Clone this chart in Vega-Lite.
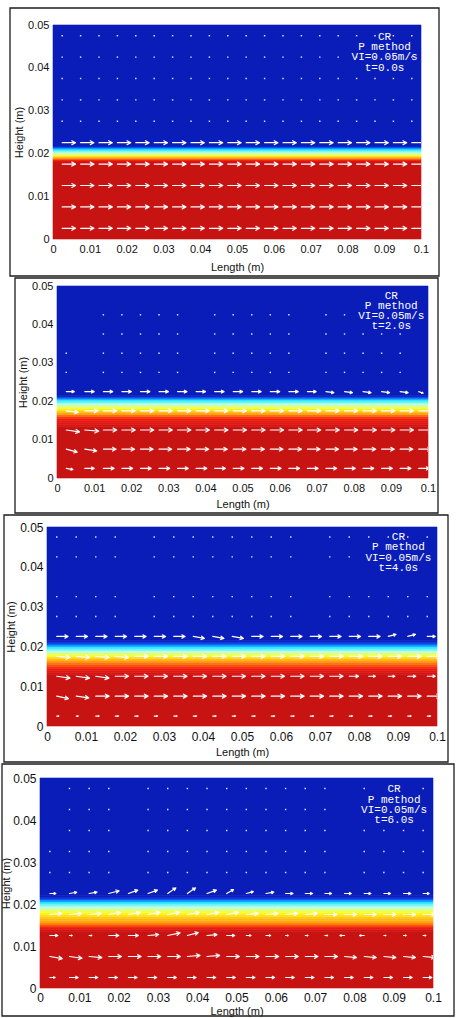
{
  "$schema": "https://vega.github.io/schema/vega-lite/v6.json",
  "background": "white",
  "padding": {"left": 0, "top": 7, "right": 0, "bottom": 0},
  "spacing": 0,
  "config": {
    "view": {"stroke": null},
    "axis": {"labelFont": "Liberation Sans", "titleFont": "Liberation Sans", "labelColor": "#111", "titleColor": "#111", "titleFontWeight": "normal", "ticks": false, "domain": false, "grid": false, "labelFlush": false, "labelOverlap": false}
  },
  "datasets": {
    "notes": [
      {"p": 1, "note": "CR\nP method\nVI=0.05m/s\nt=0.0s"},
      {"p": 2, "note": "CR\nP method\nVI=0.05m/s\nt=2.0s"},
      {"p": 3, "note": "CR\nP method\nVI=0.05m/s\nt=4.0s"},
      {"p": 4, "note": "CR\nP method\nVI=0.05m/s\nt=6.0s"}
    ],
    "bands": [
      {"p":1,"lo":0,"hi":0.018,"f":1},{"p":1,"lo":0.018,"hi":0.01825,"f":0.94},{"p":1,"lo":0.01825,"hi":0.0185,"f":0.81},{"p":1,"lo":0.0185,"hi":0.01875,"f":0.72},{"p":1,"lo":0.01875,"hi":0.019,"f":0.63},{"p":1,"lo":0.019,"hi":0.01925,"f":0.56},{"p":1,"lo":0.01925,"hi":0.0195,"f":0.49},{"p":1,"lo":0.0195,"hi":0.01975,"f":0.43},{"p":1,"lo":0.01975,"hi":0.02,"f":0.39},{"p":1,"lo":0.02,"hi":0.02025,"f":0.35},{"p":1,"lo":0.02025,"hi":0.0205,"f":0.3},{"p":1,"lo":0.0205,"hi":0.02075,"f":0.26},{"p":1,"lo":0.02075,"hi":0.021,"f":0.22},{"p":1,"lo":0.021,"hi":0.02125,"f":0.17},{"p":1,"lo":0.02125,"hi":0.0215,"f":0.11},{"p":1,"lo":0.0215,"hi":0.02175,"f":0.04},{"p":1,"lo":0.02175,"hi":0.05,"f":0},
      {"p":2,"lo":0,"hi":0.013,"f":1},{"p":2,"lo":0.013,"hi":0.0135,"f":0.99},{"p":2,"lo":0.0135,"hi":0.014,"f":0.95},{"p":2,"lo":0.014,"hi":0.0145,"f":0.9},{"p":2,"lo":0.0145,"hi":0.015,"f":0.86},{"p":2,"lo":0.015,"hi":0.0155,"f":0.82},{"p":2,"lo":0.0155,"hi":0.016,"f":0.76},{"p":2,"lo":0.016,"hi":0.0165,"f":0.68},{"p":2,"lo":0.0165,"hi":0.017,"f":0.6},{"p":2,"lo":0.017,"hi":0.0175,"f":0.55},{"p":2,"lo":0.0175,"hi":0.018,"f":0.49},{"p":2,"lo":0.018,"hi":0.0185,"f":0.43},{"p":2,"lo":0.0185,"hi":0.019,"f":0.38},{"p":2,"lo":0.019,"hi":0.0195,"f":0.33},{"p":2,"lo":0.0195,"hi":0.02,"f":0.27},{"p":2,"lo":0.02,"hi":0.0205,"f":0.22},{"p":2,"lo":0.0205,"hi":0.021,"f":0.13},{"p":2,"lo":0.021,"hi":0.0215,"f":0.03},{"p":2,"lo":0.0215,"hi":0.05,"f":0},
      {"p":3,"lo":0,"hi":0.013,"f":1},{"p":3,"lo":0.013,"hi":0.0135,"f":0.95},{"p":3,"lo":0.0135,"hi":0.014,"f":0.89},{"p":3,"lo":0.014,"hi":0.0145,"f":0.83},{"p":3,"lo":0.0145,"hi":0.015,"f":0.77},{"p":3,"lo":0.015,"hi":0.0155,"f":0.72},{"p":3,"lo":0.0155,"hi":0.016,"f":0.67},{"p":3,"lo":0.016,"hi":0.0165,"f":0.61},{"p":3,"lo":0.0165,"hi":0.017,"f":0.56},{"p":3,"lo":0.017,"hi":0.0175,"f":0.5},{"p":3,"lo":0.0175,"hi":0.018,"f":0.44},{"p":3,"lo":0.018,"hi":0.0185,"f":0.39},{"p":3,"lo":0.0185,"hi":0.019,"f":0.33},{"p":3,"lo":0.019,"hi":0.0195,"f":0.27},{"p":3,"lo":0.0195,"hi":0.02,"f":0.22},{"p":3,"lo":0.02,"hi":0.0205,"f":0.15},{"p":3,"lo":0.0205,"hi":0.021,"f":0.09},{"p":3,"lo":0.021,"hi":0.0215,"f":0.02},{"p":3,"lo":0.0215,"hi":0.05,"f":0},
      {"p":4,"lo":0,"hi":0.0135,"f":1},{"p":4,"lo":0.0135,"hi":0.014,"f":0.96},{"p":4,"lo":0.014,"hi":0.0145,"f":0.84},{"p":4,"lo":0.0145,"hi":0.015,"f":0.74},{"p":4,"lo":0.015,"hi":0.0155,"f":0.66},{"p":4,"lo":0.0155,"hi":0.016,"f":0.6},{"p":4,"lo":0.016,"hi":0.0165,"f":0.57},{"p":4,"lo":0.0165,"hi":0.017,"f":0.54},{"p":4,"lo":0.017,"hi":0.0175,"f":0.5},{"p":4,"lo":0.0175,"hi":0.018,"f":0.47},{"p":4,"lo":0.018,"hi":0.0185,"f":0.43},{"p":4,"lo":0.0185,"hi":0.019,"f":0.38},{"p":4,"lo":0.019,"hi":0.0195,"f":0.33},{"p":4,"lo":0.0195,"hi":0.02,"f":0.28},{"p":4,"lo":0.02,"hi":0.0205,"f":0.23},{"p":4,"lo":0.0205,"hi":0.021,"f":0.16},{"p":4,"lo":0.021,"hi":0.0215,"f":0.08},{"p":4,"lo":0.0215,"hi":0.022,"f":0.01},{"p":4,"lo":0.022,"hi":0.05,"f":0}
    ],
    "vec": [
      {"p":1,"x":0.0025,"y":0.0225,"m":1,"d":0},{"p":1,"x":0.0075,"y":0.0225,"m":1,"d":0},{"p":1,"x":0.0125,"y":0.0225,"m":1,"d":0},{"p":1,"x":0.0175,"y":0.0225,"m":1,"d":0},{"p":1,"x":0.0225,"y":0.0225,"m":1,"d":0},{"p":1,"x":0.0275,"y":0.0225,"m":1,"d":0},{"p":1,"x":0.0325,"y":0.0225,"m":1,"d":0},{"p":1,"x":0.0375,"y":0.0225,"m":1,"d":0},{"p":1,"x":0.0425,"y":0.0225,"m":1,"d":0},{"p":1,"x":0.0475,"y":0.0225,"m":1,"d":0},{"p":1,"x":0.0525,"y":0.0225,"m":1,"d":0},{"p":1,"x":0.0575,"y":0.0225,"m":1,"d":0},{"p":1,"x":0.0625,"y":0.0225,"m":1,"d":0},{"p":1,"x":0.0675,"y":0.0225,"m":1,"d":0},{"p":1,"x":0.0725,"y":0.0225,"m":1,"d":0},{"p":1,"x":0.0775,"y":0.0225,"m":1,"d":0},{"p":1,"x":0.0825,"y":0.0225,"m":1,"d":0},{"p":1,"x":0.0875,"y":0.0225,"m":1,"d":0},{"p":1,"x":0.0925,"y":0.0225,"m":1,"d":0},{"p":1,"x":0.0975,"y":0.0225,"m":1,"d":0},
      {"p":1,"x":0.0025,"y":0.0175,"m":1,"d":0},{"p":1,"x":0.0075,"y":0.0175,"m":1,"d":0},{"p":1,"x":0.0125,"y":0.0175,"m":1,"d":0},{"p":1,"x":0.0175,"y":0.0175,"m":1,"d":0},{"p":1,"x":0.0225,"y":0.0175,"m":1,"d":0},{"p":1,"x":0.0275,"y":0.0175,"m":1,"d":0},{"p":1,"x":0.0325,"y":0.0175,"m":1,"d":0},{"p":1,"x":0.0375,"y":0.0175,"m":1,"d":0},{"p":1,"x":0.0425,"y":0.0175,"m":1,"d":0},{"p":1,"x":0.0475,"y":0.0175,"m":1,"d":0},{"p":1,"x":0.0525,"y":0.0175,"m":1,"d":0},{"p":1,"x":0.0575,"y":0.0175,"m":1,"d":0},{"p":1,"x":0.0625,"y":0.0175,"m":1,"d":0},{"p":1,"x":0.0675,"y":0.0175,"m":1,"d":0},{"p":1,"x":0.0725,"y":0.0175,"m":1,"d":0},{"p":1,"x":0.0775,"y":0.0175,"m":1,"d":0},{"p":1,"x":0.0825,"y":0.0175,"m":1,"d":0},{"p":1,"x":0.0875,"y":0.0175,"m":1,"d":0},{"p":1,"x":0.0925,"y":0.0175,"m":1,"d":0},{"p":1,"x":0.0975,"y":0.0175,"m":1,"d":0},
      {"p":1,"x":0.0025,"y":0.0125,"m":1,"d":0},{"p":1,"x":0.0075,"y":0.0125,"m":1,"d":0},{"p":1,"x":0.0125,"y":0.0125,"m":1,"d":0},{"p":1,"x":0.0175,"y":0.0125,"m":1,"d":0},{"p":1,"x":0.0225,"y":0.0125,"m":1,"d":0},{"p":1,"x":0.0275,"y":0.0125,"m":1,"d":0},{"p":1,"x":0.0325,"y":0.0125,"m":1,"d":0},{"p":1,"x":0.0375,"y":0.0125,"m":1,"d":0},{"p":1,"x":0.0425,"y":0.0125,"m":1,"d":0},{"p":1,"x":0.0475,"y":0.0125,"m":1,"d":0},{"p":1,"x":0.0525,"y":0.0125,"m":1,"d":0},{"p":1,"x":0.0575,"y":0.0125,"m":1,"d":0},{"p":1,"x":0.0625,"y":0.0125,"m":1,"d":0},{"p":1,"x":0.0675,"y":0.0125,"m":1,"d":0},{"p":1,"x":0.0725,"y":0.0125,"m":1,"d":0},{"p":1,"x":0.0775,"y":0.0125,"m":1,"d":0},{"p":1,"x":0.0825,"y":0.0125,"m":1,"d":0},{"p":1,"x":0.0875,"y":0.0125,"m":1,"d":0},{"p":1,"x":0.0925,"y":0.0125,"m":1,"d":0},{"p":1,"x":0.0975,"y":0.0125,"m":1,"d":0},
      {"p":1,"x":0.0025,"y":0.0075,"m":1,"d":0},{"p":1,"x":0.0075,"y":0.0075,"m":1,"d":0},{"p":1,"x":0.0125,"y":0.0075,"m":1,"d":0},{"p":1,"x":0.0175,"y":0.0075,"m":1,"d":0},{"p":1,"x":0.0225,"y":0.0075,"m":1,"d":0},{"p":1,"x":0.0275,"y":0.0075,"m":1,"d":0},{"p":1,"x":0.0325,"y":0.0075,"m":1,"d":0},{"p":1,"x":0.0375,"y":0.0075,"m":1,"d":0},{"p":1,"x":0.0425,"y":0.0075,"m":1,"d":0},{"p":1,"x":0.0475,"y":0.0075,"m":1,"d":0},{"p":1,"x":0.0525,"y":0.0075,"m":1,"d":0},{"p":1,"x":0.0575,"y":0.0075,"m":1,"d":0},{"p":1,"x":0.0625,"y":0.0075,"m":1,"d":0},{"p":1,"x":0.0675,"y":0.0075,"m":1,"d":0},{"p":1,"x":0.0725,"y":0.0075,"m":1,"d":0},{"p":1,"x":0.0775,"y":0.0075,"m":1,"d":0},{"p":1,"x":0.0825,"y":0.0075,"m":1,"d":0},{"p":1,"x":0.0875,"y":0.0075,"m":1,"d":0},{"p":1,"x":0.0925,"y":0.0075,"m":1,"d":0},{"p":1,"x":0.0975,"y":0.0075,"m":1,"d":0},
      {"p":1,"x":0.0025,"y":0.0025,"m":1,"d":0},{"p":1,"x":0.0075,"y":0.0025,"m":1,"d":0},{"p":1,"x":0.0125,"y":0.0025,"m":1,"d":0},{"p":1,"x":0.0175,"y":0.0025,"m":1,"d":0},{"p":1,"x":0.0225,"y":0.0025,"m":1,"d":0},{"p":1,"x":0.0275,"y":0.0025,"m":1,"d":0},{"p":1,"x":0.0325,"y":0.0025,"m":1,"d":0},{"p":1,"x":0.0375,"y":0.0025,"m":1,"d":0},{"p":1,"x":0.0425,"y":0.0025,"m":1,"d":0},{"p":1,"x":0.0475,"y":0.0025,"m":1,"d":0},{"p":1,"x":0.0525,"y":0.0025,"m":1,"d":0},{"p":1,"x":0.0575,"y":0.0025,"m":1,"d":0},{"p":1,"x":0.0625,"y":0.0025,"m":1,"d":0},{"p":1,"x":0.0675,"y":0.0025,"m":1,"d":0},{"p":1,"x":0.0725,"y":0.0025,"m":1,"d":0},{"p":1,"x":0.0775,"y":0.0025,"m":1,"d":0},{"p":1,"x":0.0825,"y":0.0025,"m":1,"d":0},{"p":1,"x":0.0875,"y":0.0025,"m":1,"d":0},{"p":1,"x":0.0925,"y":0.0025,"m":1,"d":0},{"p":1,"x":0.0975,"y":0.0025,"m":1,"d":0},

      {"p":2,"x":0.0025,"y":0.0225,"m":0.6,"d":0},{"p":2,"x":0.0075,"y":0.0225,"m":0.7,"d":0},{"p":2,"x":0.0125,"y":0.0225,"m":0.7,"d":0},{"p":2,"x":0.0175,"y":0.0225,"m":0.7,"d":0},{"p":2,"x":0.0225,"y":0.0225,"m":0.7,"d":0},{"p":2,"x":0.0275,"y":0.0225,"m":0.7,"d":0},{"p":2,"x":0.0325,"y":0.0225,"m":0.7,"d":0},{"p":2,"x":0.0375,"y":0.0225,"m":0.7,"d":0},{"p":2,"x":0.0425,"y":0.0225,"m":0.7,"d":0},{"p":2,"x":0.0475,"y":0.0225,"m":0.7,"d":0},{"p":2,"x":0.0525,"y":0.0225,"m":0.7,"d":0},{"p":2,"x":0.0575,"y":0.0225,"m":0.7,"d":0},{"p":2,"x":0.0625,"y":0.0225,"m":0.7,"d":0},{"p":2,"x":0.0675,"y":0.0225,"m":0.65,"d":0},{"p":2,"x":0.0725,"y":0.0225,"m":0.6,"d":-8},{"p":2,"x":0.0775,"y":0.0225,"m":0.6,"d":-8},{"p":2,"x":0.0825,"y":0.0225,"m":0.6,"d":-8},{"p":2,"x":0.0875,"y":0.0225,"m":0.6,"d":-8},{"p":2,"x":0.0925,"y":0.0225,"m":0.6,"d":-8},{"p":2,"x":0.0975,"y":0.0225,"m":0.35,"d":-20},
      {"p":2,"x":0.0025,"y":0.0175,"m":0.9,"d":-8},{"p":2,"x":0.0075,"y":0.0175,"m":1,"d":0},{"p":2,"x":0.0125,"y":0.0175,"m":1,"d":0},{"p":2,"x":0.0175,"y":0.0175,"m":1,"d":0},{"p":2,"x":0.0225,"y":0.0175,"m":1,"d":0},{"p":2,"x":0.0275,"y":0.0175,"m":1,"d":0},{"p":2,"x":0.0325,"y":0.0175,"m":1,"d":0},{"p":2,"x":0.0375,"y":0.0175,"m":1,"d":0},{"p":2,"x":0.0425,"y":0.0175,"m":1,"d":0},{"p":2,"x":0.0475,"y":0.0175,"m":1,"d":0},{"p":2,"x":0.0525,"y":0.0175,"m":1,"d":0},{"p":2,"x":0.0575,"y":0.0175,"m":1,"d":0},{"p":2,"x":0.0625,"y":0.0175,"m":1,"d":0},{"p":2,"x":0.0675,"y":0.0175,"m":1,"d":0},{"p":2,"x":0.0725,"y":0.0175,"m":1,"d":0},{"p":2,"x":0.0775,"y":0.0175,"m":1,"d":0},{"p":2,"x":0.0825,"y":0.0175,"m":1,"d":0},{"p":2,"x":0.0875,"y":0.0175,"m":1,"d":0},{"p":2,"x":0.0925,"y":0.0175,"m":1,"d":0},{"p":2,"x":0.0975,"y":0.0175,"m":1,"d":0},
      {"p":2,"x":0.0025,"y":0.0125,"m":1,"d":-8},{"p":2,"x":0.0075,"y":0.0125,"m":1.05,"d":-5},{"p":2,"x":0.0125,"y":0.0125,"m":1,"d":0},{"p":2,"x":0.0175,"y":0.0125,"m":1,"d":0},{"p":2,"x":0.0225,"y":0.0125,"m":1,"d":0},{"p":2,"x":0.0275,"y":0.0125,"m":1,"d":0},{"p":2,"x":0.0325,"y":0.0125,"m":1,"d":0},{"p":2,"x":0.0375,"y":0.0125,"m":1,"d":0},{"p":2,"x":0.0425,"y":0.0125,"m":1,"d":0},{"p":2,"x":0.0475,"y":0.0125,"m":1,"d":0},{"p":2,"x":0.0525,"y":0.0125,"m":1,"d":0},{"p":2,"x":0.0575,"y":0.0125,"m":1,"d":0},{"p":2,"x":0.0625,"y":0.0125,"m":1,"d":0},{"p":2,"x":0.0675,"y":0.0125,"m":1,"d":0},{"p":2,"x":0.0725,"y":0.0125,"m":1,"d":0},{"p":2,"x":0.0775,"y":0.0125,"m":1,"d":0},{"p":2,"x":0.0825,"y":0.0125,"m":1,"d":0},{"p":2,"x":0.0875,"y":0.0125,"m":1,"d":0},{"p":2,"x":0.0925,"y":0.0125,"m":1,"d":0},{"p":2,"x":0.0975,"y":0.0125,"m":1,"d":0},
      {"p":2,"x":0.0025,"y":0.0075,"m":0.85,"d":-15},{"p":2,"x":0.0075,"y":0.0075,"m":0.9,"d":-8},{"p":2,"x":0.0125,"y":0.0075,"m":0.95,"d":0},{"p":2,"x":0.0175,"y":0.0075,"m":0.95,"d":0},{"p":2,"x":0.0225,"y":0.0075,"m":0.95,"d":0},{"p":2,"x":0.0275,"y":0.0075,"m":0.95,"d":0},{"p":2,"x":0.0325,"y":0.0075,"m":0.95,"d":0},{"p":2,"x":0.0375,"y":0.0075,"m":0.95,"d":0},{"p":2,"x":0.0425,"y":0.0075,"m":0.95,"d":0},{"p":2,"x":0.0475,"y":0.0075,"m":0.95,"d":0},{"p":2,"x":0.0525,"y":0.0075,"m":0.95,"d":0},{"p":2,"x":0.0575,"y":0.0075,"m":0.95,"d":0},{"p":2,"x":0.0625,"y":0.0075,"m":0.95,"d":0},{"p":2,"x":0.0675,"y":0.0075,"m":0.95,"d":0},{"p":2,"x":0.0725,"y":0.0075,"m":0.95,"d":0},{"p":2,"x":0.0775,"y":0.0075,"m":0.95,"d":0},{"p":2,"x":0.0825,"y":0.0075,"m":0.95,"d":0},{"p":2,"x":0.0875,"y":0.0075,"m":0.95,"d":0},{"p":2,"x":0.0925,"y":0.0075,"m":0.95,"d":0},{"p":2,"x":0.0975,"y":0.0075,"m":0.95,"d":0},
      {"p":2,"x":0.0025,"y":0.0025,"m":0.5,"d":-10},{"p":2,"x":0.0075,"y":0.0025,"m":0.7,"d":0},{"p":2,"x":0.0125,"y":0.0025,"m":0.8,"d":0},{"p":2,"x":0.0175,"y":0.0025,"m":0.8,"d":0},{"p":2,"x":0.0225,"y":0.0025,"m":0.8,"d":0},{"p":2,"x":0.0275,"y":0.0025,"m":0.8,"d":0},{"p":2,"x":0.0325,"y":0.0025,"m":0.8,"d":0},{"p":2,"x":0.0375,"y":0.0025,"m":0.8,"d":0},{"p":2,"x":0.0425,"y":0.0025,"m":0.8,"d":0},{"p":2,"x":0.0475,"y":0.0025,"m":0.8,"d":0},{"p":2,"x":0.0525,"y":0.0025,"m":0.8,"d":0},{"p":2,"x":0.0575,"y":0.0025,"m":0.8,"d":0},{"p":2,"x":0.0625,"y":0.0025,"m":0.8,"d":0},{"p":2,"x":0.0675,"y":0.0025,"m":0.8,"d":0},{"p":2,"x":0.0725,"y":0.0025,"m":0.8,"d":0},{"p":2,"x":0.0775,"y":0.0025,"m":0.8,"d":0},{"p":2,"x":0.0825,"y":0.0025,"m":0.8,"d":0},{"p":2,"x":0.0875,"y":0.0025,"m":0.8,"d":0},{"p":2,"x":0.0925,"y":0.0025,"m":0.8,"d":0},{"p":2,"x":0.0975,"y":0.0025,"m":0.8,"d":0},

      {"p":3,"x":0.0025,"y":0.0225,"m":0.85,"d":0},{"p":3,"x":0.0075,"y":0.0225,"m":0.85,"d":0},{"p":3,"x":0.0125,"y":0.0225,"m":0.85,"d":0},{"p":3,"x":0.0175,"y":0.0225,"m":0.85,"d":0},{"p":3,"x":0.0225,"y":0.0225,"m":0.85,"d":0},{"p":3,"x":0.0275,"y":0.0225,"m":0.85,"d":0},{"p":3,"x":0.0325,"y":0.0225,"m":0.85,"d":0},{"p":3,"x":0.0375,"y":0.0225,"m":0.85,"d":-10},{"p":3,"x":0.0425,"y":0.0225,"m":0.85,"d":-10},{"p":3,"x":0.0475,"y":0.0225,"m":0.85,"d":-10},{"p":3,"x":0.0525,"y":0.0225,"m":0.85,"d":0},{"p":3,"x":0.0575,"y":0.0225,"m":0.85,"d":0},{"p":3,"x":0.0625,"y":0.0225,"m":0.85,"d":0},{"p":3,"x":0.0675,"y":0.0225,"m":0.85,"d":0},{"p":3,"x":0.0725,"y":0.0225,"m":0.85,"d":0},{"p":3,"x":0.0775,"y":0.0225,"m":0.85,"d":0},{"p":3,"x":0.0825,"y":0.0225,"m":0.85,"d":0},{"p":3,"x":0.0875,"y":0.0225,"m":0.6,"d":15},{"p":3,"x":0.0925,"y":0.0225,"m":0.6,"d":15},{"p":3,"x":0.0975,"y":0.0225,"m":0.6,"d":0},
      {"p":3,"x":0.0025,"y":0.0175,"m":1,"d":-5},{"p":3,"x":0.0075,"y":0.0175,"m":1,"d":-5},{"p":3,"x":0.0125,"y":0.0175,"m":1,"d":-5},{"p":3,"x":0.0175,"y":0.0175,"m":1,"d":-5},{"p":3,"x":0.0225,"y":0.0175,"m":1,"d":0},{"p":3,"x":0.0275,"y":0.0175,"m":1,"d":0},{"p":3,"x":0.0325,"y":0.0175,"m":1,"d":0},{"p":3,"x":0.0375,"y":0.0175,"m":1,"d":0},{"p":3,"x":0.0425,"y":0.0175,"m":1,"d":0},{"p":3,"x":0.0475,"y":0.0175,"m":1,"d":0},{"p":3,"x":0.0525,"y":0.0175,"m":1,"d":0},{"p":3,"x":0.0575,"y":0.0175,"m":1,"d":0},{"p":3,"x":0.0625,"y":0.0175,"m":1,"d":0},{"p":3,"x":0.0675,"y":0.0175,"m":1,"d":0},{"p":3,"x":0.0725,"y":0.0175,"m":1,"d":0},{"p":3,"x":0.0775,"y":0.0175,"m":1,"d":0},{"p":3,"x":0.0825,"y":0.0175,"m":1,"d":0},{"p":3,"x":0.0875,"y":0.0175,"m":1,"d":0},{"p":3,"x":0.0925,"y":0.0175,"m":1,"d":0},{"p":3,"x":0.0975,"y":0.0175,"m":1,"d":0},
      {"p":3,"x":0.0025,"y":0.0125,"m":1,"d":-8},{"p":3,"x":0.0075,"y":0.0125,"m":1,"d":-8},{"p":3,"x":0.0125,"y":0.0125,"m":1,"d":-8},{"p":3,"x":0.0175,"y":0.0125,"m":1,"d":0},{"p":3,"x":0.0225,"y":0.0125,"m":1,"d":0},{"p":3,"x":0.0275,"y":0.0125,"m":1,"d":0},{"p":3,"x":0.0325,"y":0.0125,"m":1,"d":0},{"p":3,"x":0.0375,"y":0.0125,"m":1,"d":0},{"p":3,"x":0.0425,"y":0.0125,"m":1,"d":0},{"p":3,"x":0.0475,"y":0.0125,"m":1,"d":0},{"p":3,"x":0.0525,"y":0.0125,"m":1,"d":0},{"p":3,"x":0.0575,"y":0.0125,"m":1,"d":0},{"p":3,"x":0.0625,"y":0.0125,"m":1,"d":0},{"p":3,"x":0.0675,"y":0.0125,"m":1,"d":0},{"p":3,"x":0.0725,"y":0.0125,"m":1,"d":0},{"p":3,"x":0.0775,"y":0.0125,"m":0.7,"d":0},{"p":3,"x":0.0825,"y":0.0125,"m":0.5,"d":0},{"p":3,"x":0.0875,"y":0.0125,"m":0.5,"d":0},{"p":3,"x":0.0925,"y":0.0125,"m":0.6,"d":0},{"p":3,"x":0.0975,"y":0.0125,"m":0.6,"d":0},
      {"p":3,"x":0.0025,"y":0.0075,"m":0.9,"d":-12},{"p":3,"x":0.0075,"y":0.0075,"m":0.95,"d":-8},{"p":3,"x":0.0125,"y":0.0075,"m":1,"d":0},{"p":3,"x":0.0175,"y":0.0075,"m":1,"d":0},{"p":3,"x":0.0225,"y":0.0075,"m":1,"d":0},{"p":3,"x":0.0275,"y":0.0075,"m":1,"d":0},{"p":3,"x":0.0325,"y":0.0075,"m":1,"d":0},{"p":3,"x":0.0375,"y":0.0075,"m":1,"d":0},{"p":3,"x":0.0425,"y":0.0075,"m":1,"d":0},{"p":3,"x":0.0475,"y":0.0075,"m":1,"d":0},{"p":3,"x":0.0525,"y":0.0075,"m":1,"d":0},{"p":3,"x":0.0575,"y":0.0075,"m":1,"d":0},{"p":3,"x":0.0625,"y":0.0075,"m":1,"d":0},{"p":3,"x":0.0675,"y":0.0075,"m":1,"d":0},{"p":3,"x":0.0725,"y":0.0075,"m":1,"d":0},{"p":3,"x":0.0775,"y":0.0075,"m":1,"d":0},{"p":3,"x":0.0825,"y":0.0075,"m":1,"d":0},{"p":3,"x":0.0875,"y":0.0075,"m":1,"d":0},{"p":3,"x":0.0925,"y":0.0075,"m":1,"d":0},{"p":3,"x":0.0975,"y":0.0075,"m":1,"d":0},
      {"p":3,"x":0.0025,"y":0.0025,"m":0.15,"d":0},{"p":3,"x":0.0075,"y":0.0025,"m":0.15,"d":0},{"p":3,"x":0.0125,"y":0.0025,"m":0.25,"d":0},{"p":3,"x":0.0175,"y":0.0025,"m":0.25,"d":0},{"p":3,"x":0.0225,"y":0.0025,"m":0.25,"d":0},{"p":3,"x":0.0275,"y":0.0025,"m":0.25,"d":0},{"p":3,"x":0.0325,"y":0.0025,"m":0.25,"d":0},{"p":3,"x":0.0375,"y":0.0025,"m":0.25,"d":0},{"p":3,"x":0.0425,"y":0.0025,"m":0.25,"d":0},{"p":3,"x":0.0475,"y":0.0025,"m":0.25,"d":0},{"p":3,"x":0.0525,"y":0.0025,"m":0.25,"d":0},{"p":3,"x":0.0575,"y":0.0025,"m":0.25,"d":0},{"p":3,"x":0.0625,"y":0.0025,"m":0.25,"d":0},{"p":3,"x":0.0675,"y":0.0025,"m":0.25,"d":0},{"p":3,"x":0.0725,"y":0.0025,"m":0.25,"d":0},{"p":3,"x":0.0775,"y":0.0025,"m":0.25,"d":0},{"p":3,"x":0.0825,"y":0.0025,"m":0.25,"d":0},{"p":3,"x":0.0875,"y":0.0025,"m":0.25,"d":0},{"p":3,"x":0.0925,"y":0.0025,"m":0.25,"d":0},{"p":3,"x":0.0975,"y":0.0025,"m":0.25,"d":0},

      {"p":4,"x":0.0025,"y":0.0225,"m":0.45,"d":0},{"p":4,"x":0.0075,"y":0.0225,"m":0.55,"d":10},{"p":4,"x":0.0125,"y":0.0225,"m":0.6,"d":10},{"p":4,"x":0.0175,"y":0.0225,"m":0.8,"d":15},{"p":4,"x":0.0225,"y":0.0225,"m":0.75,"d":20},{"p":4,"x":0.0275,"y":0.0225,"m":0.75,"d":20},{"p":4,"x":0.0325,"y":0.0225,"m":0.75,"d":35},{"p":4,"x":0.0375,"y":0.0225,"m":0.75,"d":35},{"p":4,"x":0.0425,"y":0.0225,"m":0.75,"d":20},{"p":4,"x":0.0475,"y":0.0225,"m":0.6,"d":30},{"p":4,"x":0.0525,"y":0.0225,"m":0.55,"d":15},{"p":4,"x":0.0575,"y":0.0225,"m":0.6,"d":10},{"p":4,"x":0.0625,"y":0.0225,"m":0.55,"d":0},{"p":4,"x":0.0675,"y":0.0225,"m":0.55,"d":0},{"p":4,"x":0.0725,"y":0.0225,"m":0.5,"d":0},{"p":4,"x":0.0775,"y":0.0225,"m":0.5,"d":0},{"p":4,"x":0.0825,"y":0.0225,"m":0.5,"d":0},{"p":4,"x":0.0875,"y":0.0225,"m":0.5,"d":0},{"p":4,"x":0.0925,"y":0.0225,"m":0.55,"d":0},{"p":4,"x":0.0975,"y":0.0225,"m":0.45,"d":0},
      {"p":4,"x":0.0025,"y":0.0175,"m":0.9,"d":5},{"p":4,"x":0.0075,"y":0.0175,"m":0.9,"d":5},{"p":4,"x":0.0125,"y":0.0175,"m":0.9,"d":5},{"p":4,"x":0.0175,"y":0.0175,"m":0.9,"d":10},{"p":4,"x":0.0225,"y":0.0175,"m":0.9,"d":10},{"p":4,"x":0.0275,"y":0.0175,"m":0.9,"d":10},{"p":4,"x":0.0325,"y":0.0175,"m":0.9,"d":10},{"p":4,"x":0.0375,"y":0.0175,"m":0.9,"d":10},{"p":4,"x":0.0425,"y":0.0175,"m":0.9,"d":10},{"p":4,"x":0.0475,"y":0.0175,"m":0.9,"d":10},{"p":4,"x":0.0525,"y":0.0175,"m":0.9,"d":5},{"p":4,"x":0.0575,"y":0.0175,"m":0.9,"d":5},{"p":4,"x":0.0625,"y":0.0175,"m":0.9,"d":5},{"p":4,"x":0.0675,"y":0.0175,"m":0.9,"d":5},{"p":4,"x":0.0725,"y":0.0175,"m":0.9,"d":0},{"p":4,"x":0.0775,"y":0.0175,"m":0.9,"d":0},{"p":4,"x":0.0825,"y":0.0175,"m":0.9,"d":0},{"p":4,"x":0.0875,"y":0.0175,"m":0.9,"d":0},{"p":4,"x":0.0925,"y":0.0175,"m":0.9,"d":0},{"p":4,"x":0.0975,"y":0.0175,"m":0.9,"d":0},
      {"p":4,"x":0.0025,"y":0.0125,"m":0.6,"d":0},{"p":4,"x":0.0075,"y":0.0125,"m":0.2,"d":0},{"p":4,"x":0.0125,"y":0.0125,"m":0.2,"d":0},{"p":4,"x":0.0175,"y":0.0125,"m":0.75,"d":0},{"p":4,"x":0.0225,"y":0.0125,"m":0.75,"d":0},{"p":4,"x":0.0275,"y":0.0125,"m":0.8,"d":5},{"p":4,"x":0.0325,"y":0.0125,"m":0.95,"d":12},{"p":4,"x":0.0375,"y":0.0125,"m":0.85,"d":15},{"p":4,"x":0.0425,"y":0.0125,"m":0.75,"d":5},{"p":4,"x":0.0475,"y":0.0125,"m":0.6,"d":0},{"p":4,"x":0.0525,"y":0.0125,"m":0.35,"d":0},{"p":4,"x":0.0575,"y":0.0125,"m":0.35,"d":0},{"p":4,"x":0.0625,"y":0.0125,"m":0.2,"d":0},{"p":4,"x":0.0675,"y":0.0125,"m":0.2,"d":0},{"p":4,"x":0.0725,"y":0.0125,"m":0.2,"d":0},{"p":4,"x":0.0775,"y":0.0125,"m":0.35,"d":180},{"p":4,"x":0.0825,"y":0.0125,"m":0.35,"d":180},{"p":4,"x":0.0875,"y":0.0125,"m":0.15,"d":0},{"p":4,"x":0.0925,"y":0.0125,"m":0.2,"d":0},{"p":4,"x":0.0975,"y":0.0125,"m":0.2,"d":0},
      {"p":4,"x":0.0025,"y":0.0075,"m":0.95,"d":-10},{"p":4,"x":0.0075,"y":0.0075,"m":0.95,"d":-8},{"p":4,"x":0.0125,"y":0.0075,"m":0.95,"d":-5},{"p":4,"x":0.0175,"y":0.0075,"m":0.95,"d":0},{"p":4,"x":0.0225,"y":0.0075,"m":0.95,"d":0},{"p":4,"x":0.0275,"y":0.0075,"m":0.95,"d":0},{"p":4,"x":0.0325,"y":0.0075,"m":0.95,"d":0},{"p":4,"x":0.0375,"y":0.0075,"m":0.95,"d":5},{"p":4,"x":0.0425,"y":0.0075,"m":0.95,"d":5},{"p":4,"x":0.0475,"y":0.0075,"m":0.95,"d":0},{"p":4,"x":0.0525,"y":0.0075,"m":0.95,"d":0},{"p":4,"x":0.0575,"y":0.0075,"m":0.95,"d":0},{"p":4,"x":0.0625,"y":0.0075,"m":0.95,"d":0},{"p":4,"x":0.0675,"y":0.0075,"m":0.95,"d":0},{"p":4,"x":0.0725,"y":0.0075,"m":0.95,"d":0},{"p":4,"x":0.0775,"y":0.0075,"m":0.9,"d":-5},{"p":4,"x":0.0825,"y":0.0075,"m":0.9,"d":-5},{"p":4,"x":0.0875,"y":0.0075,"m":0.9,"d":-5},{"p":4,"x":0.0925,"y":0.0075,"m":0.9,"d":-5},{"p":4,"x":0.0975,"y":0.0075,"m":0.9,"d":-5},
      {"p":4,"x":0.0025,"y":0.0025,"m":0.4,"d":0},{"p":4,"x":0.0075,"y":0.0025,"m":0.65,"d":0},{"p":4,"x":0.0125,"y":0.0025,"m":0.65,"d":0},{"p":4,"x":0.0175,"y":0.0025,"m":0.65,"d":0},{"p":4,"x":0.0225,"y":0.0025,"m":0.65,"d":0},{"p":4,"x":0.0275,"y":0.0025,"m":0.65,"d":0},{"p":4,"x":0.0325,"y":0.0025,"m":0.65,"d":0},{"p":4,"x":0.0375,"y":0.0025,"m":0.65,"d":0},{"p":4,"x":0.0425,"y":0.0025,"m":0.65,"d":0},{"p":4,"x":0.0475,"y":0.0025,"m":0.65,"d":0},{"p":4,"x":0.0525,"y":0.0025,"m":0.65,"d":0},{"p":4,"x":0.0575,"y":0.0025,"m":0.65,"d":0},{"p":4,"x":0.0625,"y":0.0025,"m":0.65,"d":0},{"p":4,"x":0.0675,"y":0.0025,"m":0.65,"d":0},{"p":4,"x":0.0725,"y":0.0025,"m":0.65,"d":0},{"p":4,"x":0.0775,"y":0.0025,"m":0.65,"d":0},{"p":4,"x":0.0825,"y":0.0025,"m":0.65,"d":0},{"p":4,"x":0.0875,"y":0.0025,"m":0.65,"d":0},{"p":4,"x":0.0925,"y":0.0025,"m":0.65,"d":0},{"p":4,"x":0.0975,"y":0.0025,"m":0.65,"d":0}
    ],
    "dots": [
      {"p":1,"x":0.0025,"y":0.0475},{"p":1,"x":0.0075,"y":0.0475},{"p":1,"x":0.0125,"y":0.0475},{"p":1,"x":0.0175,"y":0.0475},{"p":1,"x":0.0225,"y":0.0475},{"p":1,"x":0.0275,"y":0.0475},{"p":1,"x":0.0325,"y":0.0475},{"p":1,"x":0.0375,"y":0.0475},{"p":1,"x":0.0425,"y":0.0475},{"p":1,"x":0.0475,"y":0.0475},{"p":1,"x":0.0525,"y":0.0475},{"p":1,"x":0.0575,"y":0.0475},{"p":1,"x":0.0625,"y":0.0475},{"p":1,"x":0.0675,"y":0.0475},{"p":1,"x":0.0725,"y":0.0475},{"p":1,"x":0.0775,"y":0.0475},{"p":1,"x":0.0825,"y":0.0475},{"p":1,"x":0.0875,"y":0.0475},{"p":1,"x":0.0925,"y":0.0475},{"p":1,"x":0.0975,"y":0.0475},
      {"p":1,"x":0.0025,"y":0.0425},{"p":1,"x":0.0075,"y":0.0425},{"p":1,"x":0.0125,"y":0.0425},{"p":1,"x":0.0175,"y":0.0425},{"p":1,"x":0.0225,"y":0.0425},{"p":1,"x":0.0275,"y":0.0425},{"p":1,"x":0.0325,"y":0.0425},{"p":1,"x":0.0375,"y":0.0425},{"p":1,"x":0.0425,"y":0.0425},{"p":1,"x":0.0475,"y":0.0425},{"p":1,"x":0.0525,"y":0.0425},{"p":1,"x":0.0575,"y":0.0425},{"p":1,"x":0.0625,"y":0.0425},{"p":1,"x":0.0675,"y":0.0425},{"p":1,"x":0.0725,"y":0.0425},{"p":1,"x":0.0775,"y":0.0425},{"p":1,"x":0.0825,"y":0.0425},{"p":1,"x":0.0875,"y":0.0425},{"p":1,"x":0.0925,"y":0.0425},{"p":1,"x":0.0975,"y":0.0425},
      {"p":1,"x":0.0025,"y":0.0375},{"p":1,"x":0.0075,"y":0.0375},{"p":1,"x":0.0125,"y":0.0375},{"p":1,"x":0.0175,"y":0.0375},{"p":1,"x":0.0225,"y":0.0375},{"p":1,"x":0.0275,"y":0.0375},{"p":1,"x":0.0325,"y":0.0375},{"p":1,"x":0.0375,"y":0.0375},{"p":1,"x":0.0425,"y":0.0375},{"p":1,"x":0.0475,"y":0.0375},{"p":1,"x":0.0525,"y":0.0375},{"p":1,"x":0.0575,"y":0.0375},{"p":1,"x":0.0625,"y":0.0375},{"p":1,"x":0.0675,"y":0.0375},{"p":1,"x":0.0725,"y":0.0375},{"p":1,"x":0.0775,"y":0.0375},{"p":1,"x":0.0825,"y":0.0375},{"p":1,"x":0.0875,"y":0.0375},{"p":1,"x":0.0925,"y":0.0375},{"p":1,"x":0.0975,"y":0.0375},
      {"p":1,"x":0.0025,"y":0.0325},{"p":1,"x":0.0075,"y":0.0325},{"p":1,"x":0.0125,"y":0.0325},{"p":1,"x":0.0175,"y":0.0325},{"p":1,"x":0.0225,"y":0.0325},{"p":1,"x":0.0275,"y":0.0325},{"p":1,"x":0.0325,"y":0.0325},{"p":1,"x":0.0375,"y":0.0325},{"p":1,"x":0.0425,"y":0.0325},{"p":1,"x":0.0475,"y":0.0325},{"p":1,"x":0.0525,"y":0.0325},{"p":1,"x":0.0575,"y":0.0325},{"p":1,"x":0.0625,"y":0.0325},{"p":1,"x":0.0675,"y":0.0325},{"p":1,"x":0.0725,"y":0.0325},{"p":1,"x":0.0775,"y":0.0325},{"p":1,"x":0.0825,"y":0.0325},{"p":1,"x":0.0875,"y":0.0325},{"p":1,"x":0.0925,"y":0.0325},{"p":1,"x":0.0975,"y":0.0325},
      {"p":1,"x":0.0025,"y":0.0275},{"p":1,"x":0.0075,"y":0.0275},{"p":1,"x":0.0125,"y":0.0275},{"p":1,"x":0.0175,"y":0.0275},{"p":1,"x":0.0225,"y":0.0275},{"p":1,"x":0.0275,"y":0.0275},{"p":1,"x":0.0325,"y":0.0275},{"p":1,"x":0.0375,"y":0.0275},{"p":1,"x":0.0425,"y":0.0275},{"p":1,"x":0.0475,"y":0.0275},{"p":1,"x":0.0525,"y":0.0275},{"p":1,"x":0.0575,"y":0.0275},{"p":1,"x":0.0625,"y":0.0275},{"p":1,"x":0.0675,"y":0.0275},{"p":1,"x":0.0725,"y":0.0275},{"p":1,"x":0.0775,"y":0.0275},{"p":1,"x":0.0825,"y":0.0275},{"p":1,"x":0.0875,"y":0.0275},{"p":1,"x":0.0925,"y":0.0275},{"p":1,"x":0.0975,"y":0.0275},

      {"p":2,"x":0.0125,"y":0.0425},{"p":2,"x":0.0175,"y":0.0425},{"p":2,"x":0.0225,"y":0.0425},{"p":2,"x":0.0275,"y":0.0425},{"p":2,"x":0.0325,"y":0.0425},{"p":2,"x":0.0425,"y":0.0425},{"p":2,"x":0.0475,"y":0.0425},{"p":2,"x":0.0525,"y":0.0425},{"p":2,"x":0.0575,"y":0.0425},{"p":2,"x":0.0625,"y":0.0425},{"p":2,"x":0.0725,"y":0.0425},{"p":2,"x":0.0775,"y":0.0425},
      {"p":2,"x":0.0125,"y":0.0375},{"p":2,"x":0.0175,"y":0.0375},{"p":2,"x":0.0225,"y":0.0375},{"p":2,"x":0.0275,"y":0.0375},{"p":2,"x":0.0325,"y":0.0375},{"p":2,"x":0.0425,"y":0.0375},{"p":2,"x":0.0475,"y":0.0375},{"p":2,"x":0.0525,"y":0.0375},{"p":2,"x":0.0575,"y":0.0375},{"p":2,"x":0.0625,"y":0.0375},{"p":2,"x":0.0725,"y":0.0375},{"p":2,"x":0.0775,"y":0.0375},{"p":2,"x":0.0825,"y":0.0375},{"p":2,"x":0.0875,"y":0.0375},{"p":2,"x":0.0925,"y":0.0375},
      {"p":2,"x":0.0025,"y":0.0325},{"p":2,"x":0.0125,"y":0.0325},{"p":2,"x":0.0175,"y":0.0325},{"p":2,"x":0.0225,"y":0.0325},{"p":2,"x":0.0275,"y":0.0325},{"p":2,"x":0.0325,"y":0.0325},{"p":2,"x":0.0425,"y":0.0325},{"p":2,"x":0.0475,"y":0.0325},{"p":2,"x":0.0525,"y":0.0325},{"p":2,"x":0.0575,"y":0.0325},{"p":2,"x":0.0625,"y":0.0325},{"p":2,"x":0.0725,"y":0.0325},{"p":2,"x":0.0775,"y":0.0325},{"p":2,"x":0.0825,"y":0.0325},{"p":2,"x":0.0875,"y":0.0325},{"p":2,"x":0.0925,"y":0.0325},
      {"p":2,"x":0.0025,"y":0.0275},{"p":2,"x":0.0125,"y":0.0275},{"p":2,"x":0.0175,"y":0.0275},{"p":2,"x":0.0225,"y":0.0275},{"p":2,"x":0.0275,"y":0.0275},{"p":2,"x":0.0325,"y":0.0275},{"p":2,"x":0.0425,"y":0.0275},{"p":2,"x":0.0475,"y":0.0275},{"p":2,"x":0.0525,"y":0.0275},{"p":2,"x":0.0575,"y":0.0275},{"p":2,"x":0.0625,"y":0.0275},{"p":2,"x":0.0725,"y":0.0275},{"p":2,"x":0.0775,"y":0.0275},{"p":2,"x":0.0825,"y":0.0275},{"p":2,"x":0.0875,"y":0.0275},{"p":2,"x":0.0925,"y":0.0275},

      {"p":3,"x":0.0025,"y":0.0475},{"p":3,"x":0.0075,"y":0.0475},{"p":3,"x":0.0125,"y":0.0475},{"p":3,"x":0.0175,"y":0.0475},{"p":3,"x":0.0275,"y":0.0475},{"p":3,"x":0.0325,"y":0.0475},{"p":3,"x":0.0375,"y":0.0475},{"p":3,"x":0.0425,"y":0.0475},{"p":3,"x":0.0475,"y":0.0475},{"p":3,"x":0.0525,"y":0.0475},{"p":3,"x":0.0575,"y":0.0475},{"p":3,"x":0.0625,"y":0.0475},{"p":3,"x":0.0725,"y":0.0475},{"p":3,"x":0.0775,"y":0.0475},{"p":3,"x":0.0825,"y":0.0475},{"p":3,"x":0.0875,"y":0.0475},{"p":3,"x":0.0925,"y":0.0475},{"p":3,"x":0.0975,"y":0.0475},
      {"p":3,"x":0.0025,"y":0.0425},{"p":3,"x":0.0075,"y":0.0425},{"p":3,"x":0.0125,"y":0.0425},{"p":3,"x":0.0175,"y":0.0425},{"p":3,"x":0.0275,"y":0.0425},{"p":3,"x":0.0325,"y":0.0425},{"p":3,"x":0.0375,"y":0.0425},{"p":3,"x":0.0425,"y":0.0425},{"p":3,"x":0.0475,"y":0.0425},{"p":3,"x":0.0525,"y":0.0425},{"p":3,"x":0.0575,"y":0.0425},{"p":3,"x":0.0625,"y":0.0425},{"p":3,"x":0.0725,"y":0.0425},{"p":3,"x":0.0775,"y":0.0425},
      {"p":3,"x":0.0025,"y":0.0325},{"p":3,"x":0.0075,"y":0.0325},{"p":3,"x":0.0125,"y":0.0325},{"p":3,"x":0.0175,"y":0.0325},{"p":3,"x":0.0275,"y":0.0325},{"p":3,"x":0.0325,"y":0.0325},{"p":3,"x":0.0375,"y":0.0325},{"p":3,"x":0.0425,"y":0.0325},{"p":3,"x":0.0475,"y":0.0325},{"p":3,"x":0.0525,"y":0.0325},{"p":3,"x":0.0575,"y":0.0325},{"p":3,"x":0.0625,"y":0.0325},{"p":3,"x":0.0725,"y":0.0325},{"p":3,"x":0.0775,"y":0.0325},{"p":3,"x":0.0825,"y":0.0325},{"p":3,"x":0.0875,"y":0.0325},{"p":3,"x":0.0925,"y":0.0325},{"p":3,"x":0.0975,"y":0.0325},
      {"p":3,"x":0.0025,"y":0.0275},{"p":3,"x":0.0075,"y":0.0275},{"p":3,"x":0.0125,"y":0.0275},{"p":3,"x":0.0175,"y":0.0275},{"p":3,"x":0.0275,"y":0.0275},{"p":3,"x":0.0325,"y":0.0275},{"p":3,"x":0.0375,"y":0.0275},{"p":3,"x":0.0425,"y":0.0275},{"p":3,"x":0.0475,"y":0.0275},{"p":3,"x":0.0525,"y":0.0275},{"p":3,"x":0.0575,"y":0.0275},{"p":3,"x":0.0625,"y":0.0275},{"p":3,"x":0.0725,"y":0.0275},{"p":3,"x":0.0775,"y":0.0275},{"p":3,"x":0.0825,"y":0.0275},{"p":3,"x":0.0875,"y":0.0275},{"p":3,"x":0.0925,"y":0.0275},{"p":3,"x":0.0975,"y":0.0275},

      {"p":4,"x":0.0075,"y":0.0475},{"p":4,"x":0.0125,"y":0.0475},{"p":4,"x":0.0175,"y":0.0475},{"p":4,"x":0.0275,"y":0.0475},{"p":4,"x":0.0325,"y":0.0475},{"p":4,"x":0.0375,"y":0.0475},{"p":4,"x":0.0425,"y":0.0475},{"p":4,"x":0.0475,"y":0.0475},{"p":4,"x":0.0525,"y":0.0475},{"p":4,"x":0.0575,"y":0.0475},{"p":4,"x":0.0625,"y":0.0475},{"p":4,"x":0.0675,"y":0.0475},{"p":4,"x":0.0725,"y":0.0475},{"p":4,"x":0.0825,"y":0.0475},{"p":4,"x":0.0975,"y":0.0475},
      {"p":4,"x":0.0075,"y":0.0425},{"p":4,"x":0.0125,"y":0.0425},{"p":4,"x":0.0175,"y":0.0425},{"p":4,"x":0.0275,"y":0.0425},{"p":4,"x":0.0325,"y":0.0425},{"p":4,"x":0.0375,"y":0.0425},{"p":4,"x":0.0425,"y":0.0425},{"p":4,"x":0.0475,"y":0.0425},{"p":4,"x":0.0525,"y":0.0425},{"p":4,"x":0.0575,"y":0.0425},{"p":4,"x":0.0625,"y":0.0425},{"p":4,"x":0.0675,"y":0.0425},{"p":4,"x":0.0725,"y":0.0425},
      {"p":4,"x":0.0075,"y":0.0375},{"p":4,"x":0.0125,"y":0.0375},{"p":4,"x":0.0175,"y":0.0375},{"p":4,"x":0.0275,"y":0.0375},{"p":4,"x":0.0325,"y":0.0375},{"p":4,"x":0.0375,"y":0.0375},{"p":4,"x":0.0425,"y":0.0375},{"p":4,"x":0.0475,"y":0.0375},{"p":4,"x":0.0525,"y":0.0375},{"p":4,"x":0.0575,"y":0.0375},{"p":4,"x":0.0625,"y":0.0375},{"p":4,"x":0.0675,"y":0.0375},{"p":4,"x":0.0725,"y":0.0375},{"p":4,"x":0.0825,"y":0.0375},{"p":4,"x":0.0875,"y":0.0375},{"p":4,"x":0.0925,"y":0.0375},{"p":4,"x":0.0975,"y":0.0375},
      {"p":4,"x":0.0025,"y":0.0325},{"p":4,"x":0.0075,"y":0.0325},{"p":4,"x":0.0125,"y":0.0325},{"p":4,"x":0.0175,"y":0.0325},{"p":4,"x":0.0275,"y":0.0325},{"p":4,"x":0.0325,"y":0.0325},{"p":4,"x":0.0375,"y":0.0325},{"p":4,"x":0.0425,"y":0.0325},{"p":4,"x":0.0475,"y":0.0325},{"p":4,"x":0.0525,"y":0.0325},{"p":4,"x":0.0575,"y":0.0325},{"p":4,"x":0.0625,"y":0.0325},{"p":4,"x":0.0675,"y":0.0325},{"p":4,"x":0.0725,"y":0.0325},{"p":4,"x":0.0825,"y":0.0325},{"p":4,"x":0.0875,"y":0.0325},{"p":4,"x":0.0925,"y":0.0325},{"p":4,"x":0.0975,"y":0.0325},
      {"p":4,"x":0.0025,"y":0.0275},{"p":4,"x":0.0075,"y":0.0275},{"p":4,"x":0.0125,"y":0.0275},{"p":4,"x":0.0175,"y":0.0275},{"p":4,"x":0.0275,"y":0.0275},{"p":4,"x":0.0325,"y":0.0275},{"p":4,"x":0.0375,"y":0.0275},{"p":4,"x":0.0425,"y":0.0275},{"p":4,"x":0.0475,"y":0.0275},{"p":4,"x":0.0525,"y":0.0275},{"p":4,"x":0.0575,"y":0.0275},{"p":4,"x":0.0625,"y":0.0275},{"p":4,"x":0.0675,"y":0.0275},{"p":4,"x":0.0725,"y":0.0275},{"p":4,"x":0.0825,"y":0.0275},{"p":4,"x":0.0875,"y":0.0275},{"p":4,"x":0.0925,"y":0.0275},{"p":4,"x":0.0975,"y":0.0275}
    ]
  },
  "vconcat": [
    {
      "width": 381, "height": 214,
      "layer": [
        {"data": {"name": "bands"}, "transform": [{"filter": "datum.p == 1"}], "mark": {"type": "rect", "strokeWidth": 0.6},
         "encoding": {
           "x": {"datum": 0, "type": "quantitative", "scale": {"domain": [0, 0.1], "range": [13, 381], "nice": false, "zero": false},
                 "axis": {"values": [0, 0.01, 0.02, 0.03, 0.04, 0.05, 0.06, 0.07, 0.08, 0.09, 0.1], "format": "~g", "title": "Length (m)", "labelFontSize": 11, "titleFontSize": 11, "labelPadding": 4, "titlePadding": 7, "labelOverlap": false, "tickCount": 11}},
           "x2": {"datum": 0.1},
           "y": {"field": "lo", "type": "quantitative", "scale": {"domain": [0, 0.05], "nice": false, "zero": false},
                 "axis": {"values": [0, 0.01, 0.02, 0.03, 0.04, 0.05], "format": "~g", "title": "Height (m)", "labelFontSize": 11, "titleFontSize": 11, "offset": -13, "labelPadding": 4, "titlePadding": 3, "labelOverlap": false, "tickCount": 6}},
           "y2": {"field": "hi"},
           "color": {"field": "f", "type": "quantitative", "legend": null, "scale": {"type": "linear", "domain": [0, 0.08, 0.14, 0.2, 0.32, 0.45, 0.62, 0.8, 1], "range": ["#0b1db8", "#0b3cf0", "#0a8cff", "#12e4ff", "#b4fff4", "#ffff1e", "#ff9612", "#f41c12", "#c81313"], "interpolate": "rgb"}},
           "stroke": {"field": "f", "type": "quantitative", "legend": null, "scale": {"type": "linear", "domain": [0, 0.08, 0.14, 0.2, 0.32, 0.45, 0.62, 0.8, 1], "range": ["#0b1db8", "#0b3cf0", "#0a8cff", "#12e4ff", "#b4fff4", "#ffff1e", "#ff9612", "#f41c12", "#c81313"], "interpolate": "rgb"}}
         }},
        {"data": {"values": [{}]}, "mark": {"type": "rect", "filled": false, "stroke": "#1c1c1c", "strokeWidth": 1.3},
         "encoding": {"x": {"datum": -0.011685, "type": "quantitative", "scale": {"domain": [0, 0.1], "range": [13, 381], "nice": false, "zero": false}}, "x2": {"datum": 0.104891},
                      "y": {"datum": 0.053972, "type": "quantitative", "scale": {"domain": [0, 0.05], "nice": false, "zero": false}}, "y2": {"datum": -0.008645}}},
        {"data": {"name": "dots"}, "transform": [{"filter": "datum.p == 1"}], "mark": {"type": "square", "size": 2, "color": "white", "opacity": 0.9, "clip": true},
         "encoding": {"x": {"field": "x", "type": "quantitative", "scale": {"domain": [0, 0.1], "range": [13, 381], "nice": false, "zero": false}},
                      "y": {"field": "y", "type": "quantitative", "scale": {"domain": [0, 0.05], "nice": false, "zero": false}}}},
        {"data": {"name": "vec"}, "transform": [{"filter": "datum.p == 1"}],
         "mark": {"type": "point", "shape": "M0,0L2,0M1.45,-0.3L2,0L1.45,0.3", "filled": false, "color": "white", "stroke": "white", "strokeWidth": 1.2, "strokeCap": "round", "strokeJoin": "round", "opacity": 1, "clip": true},
         "encoding": {"x": {"field": "x", "type": "quantitative", "scale": {"domain": [0, 0.1], "range": [13, 381], "nice": false, "zero": false}},
                      "y": {"field": "y", "type": "quantitative", "scale": {"domain": [0, 0.05], "nice": false, "zero": false}},
                      "size": {"field": "m", "type": "quantitative", "legend": null, "scale": {"type": "pow", "exponent": 2, "domain": [0, 1], "range": [0, 177]}},
                      "angle": {"field": "d", "type": "quantitative", "legend": null, "scale": {"domain": [-180, 180], "range": [180, -180]}}}},
        {"data": {"name": "notes"}, "transform": [{"filter": "datum.p == 1"}],
         "mark": {"type": "text", "font": "Liberation Mono", "fontSize": 11, "color": "white", "align": "center", "baseline": "top", "lineHeight": 10.4, "lineBreak": "\n"},
         "encoding": {"x": {"datum": 0.0901, "type": "quantitative", "scale": {"domain": [0, 0.1], "range": [13, 381], "nice": false, "zero": false}},
                      "y": {"datum": 0.04871, "type": "quantitative", "scale": {"domain": [0, 0.05], "nice": false, "zero": false}},
                      "text": {"field": "note", "type": "nominal"}}}
      ]
    },
    {
      "width": 388, "height": 192,
      "layer": [
        {"data": {"name": "bands"}, "transform": [{"filter": "datum.p == 2"}], "mark": {"type": "rect", "strokeWidth": 0.6},
         "encoding": {
           "x": {"datum": 0, "type": "quantitative", "scale": {"domain": [0, 0.1], "range": [17, 388], "nice": false, "zero": false},
                 "axis": {"values": [0, 0.01, 0.02, 0.03, 0.04, 0.05, 0.06, 0.07, 0.08, 0.09, 0.1], "format": "~g", "title": "Length (m)", "labelFontSize": 11, "titleFontSize": 11, "labelPadding": 4, "titlePadding": 5, "labelOverlap": false, "tickCount": 11}},
           "x2": {"datum": 0.1},
           "y": {"field": "lo", "type": "quantitative", "scale": {"domain": [0, 0.05], "nice": false, "zero": false},
                 "axis": {"values": [0, 0.01, 0.02, 0.03, 0.04, 0.05], "format": "~g", "title": "Height (m)", "labelFontSize": 11, "titleFontSize": 11, "offset": -17, "labelPadding": 4, "titlePadding": 3, "labelOverlap": false, "tickCount": 6}},
           "y2": {"field": "hi"},
           "color": {"field": "f", "type": "quantitative", "legend": null, "scale": {"type": "linear", "domain": [0, 0.08, 0.14, 0.2, 0.32, 0.45, 0.62, 0.8, 1], "range": ["#0b1db8", "#0b3cf0", "#0a8cff", "#12e4ff", "#b4fff4", "#ffff1e", "#ff9612", "#f41c12", "#c81313"], "interpolate": "rgb"}},
           "stroke": {"field": "f", "type": "quantitative", "legend": null, "scale": {"type": "linear", "domain": [0, 0.08, 0.14, 0.2, 0.32, 0.45, 0.62, 0.8, 1], "range": ["#0b1db8", "#0b3cf0", "#0a8cff", "#12e4ff", "#b4fff4", "#ffff1e", "#ff9612", "#f41c12", "#c81313"], "interpolate": "rgb"}}
         }},
        {"data": {"values": [{}]}, "mark": {"type": "rect", "filled": false, "stroke": "#1c1c1c", "strokeWidth": 1.3},
         "encoding": {"x": {"datum": -0.011321, "type": "quantitative", "scale": {"domain": [0, 0.1], "range": [17, 388], "nice": false, "zero": false}}, "x2": {"datum": 0.102695},
                      "y": {"datum": 0.052083, "type": "quantitative", "scale": {"domain": [0, 0.05], "nice": false, "zero": false}}, "y2": {"datum": -0.009115}}},
        {"data": {"name": "dots"}, "transform": [{"filter": "datum.p == 2"}], "mark": {"type": "square", "size": 2, "color": "white", "opacity": 0.9, "clip": true},
         "encoding": {"x": {"field": "x", "type": "quantitative", "scale": {"domain": [0, 0.1], "range": [17, 388], "nice": false, "zero": false}},
                      "y": {"field": "y", "type": "quantitative", "scale": {"domain": [0, 0.05], "nice": false, "zero": false}}}},
        {"data": {"name": "vec"}, "transform": [{"filter": "datum.p == 2"}],
         "mark": {"type": "point", "shape": "M0,0L2,0M1.45,-0.3L2,0L1.45,0.3", "filled": false, "color": "white", "stroke": "white", "strokeWidth": 1.2, "strokeCap": "round", "strokeJoin": "round", "opacity": 1, "clip": true},
         "encoding": {"x": {"field": "x", "type": "quantitative", "scale": {"domain": [0, 0.1], "range": [17, 388], "nice": false, "zero": false}},
                      "y": {"field": "y", "type": "quantitative", "scale": {"domain": [0, 0.05], "nice": false, "zero": false}},
                      "size": {"field": "m", "type": "quantitative", "legend": null, "scale": {"type": "pow", "exponent": 2, "domain": [0, 1], "range": [0, 177]}},
                      "angle": {"field": "d", "type": "quantitative", "legend": null, "scale": {"domain": [-180, 180], "range": [180, -180]}}}},
        {"data": {"name": "notes"}, "transform": [{"filter": "datum.p == 2"}],
         "mark": {"type": "text", "font": "Liberation Mono", "fontSize": 11, "color": "white", "align": "center", "baseline": "top", "lineHeight": 10, "lineBreak": "\n"},
         "encoding": {"x": {"datum": 0.0901, "type": "quantitative", "scale": {"domain": [0, 0.1], "range": [17, 388], "nice": false, "zero": false}},
                      "y": {"datum": 0.04891, "type": "quantitative", "scale": {"domain": [0, 0.05], "nice": false, "zero": false}},
                      "text": {"field": "note", "type": "nominal"}}}
      ]
    },
    {
      "width": 397, "height": 199,
      "layer": [
        {"data": {"name": "bands"}, "transform": [{"filter": "datum.p == 3"}], "mark": {"type": "rect", "strokeWidth": 0.6},
         "encoding": {
           "x": {"datum": 0, "type": "quantitative", "scale": {"domain": [0, 0.1], "range": [7, 397], "nice": false, "zero": false},
                 "axis": {"values": [0, 0.01, 0.02, 0.03, 0.04, 0.05, 0.06, 0.07, 0.08, 0.09, 0.1], "format": "~g", "title": "Length (m)", "labelFontSize": 12, "titleFontSize": 11, "labelPadding": 5, "titlePadding": 4, "labelOverlap": false, "tickCount": 11}},
           "x2": {"datum": 0.1},
           "y": {"field": "lo", "type": "quantitative", "scale": {"domain": [0, 0.05], "nice": false, "zero": false},
                 "axis": {"values": [0, 0.01, 0.02, 0.03, 0.04, 0.05], "format": "~g", "title": "Height (m)", "labelFontSize": 12, "titleFontSize": 11, "offset": -7, "labelPadding": 4, "titlePadding": 3, "labelOverlap": false, "tickCount": 6}},
           "y2": {"field": "hi"},
           "color": {"field": "f", "type": "quantitative", "legend": null, "scale": {"type": "linear", "domain": [0, 0.08, 0.14, 0.2, 0.32, 0.45, 0.62, 0.8, 1], "range": ["#0b1db8", "#0b3cf0", "#0a8cff", "#12e4ff", "#b4fff4", "#ffff1e", "#ff9612", "#f41c12", "#c81313"], "interpolate": "rgb"}},
           "stroke": {"field": "f", "type": "quantitative", "legend": null, "scale": {"type": "linear", "domain": [0, 0.08, 0.14, 0.2, 0.32, 0.45, 0.62, 0.8, 1], "range": ["#0b1db8", "#0b3cf0", "#0a8cff", "#12e4ff", "#b4fff4", "#ffff1e", "#ff9612", "#f41c12", "#c81313"], "interpolate": "rgb"}}
         }},
        {"data": {"values": [{}]}, "mark": {"type": "rect", "filled": false, "stroke": "#1c1c1c", "strokeWidth": 1.3},
         "encoding": {"x": {"datum": -0.011026, "type": "quantitative", "scale": {"domain": [0, 0.1], "range": [7, 397], "nice": false, "zero": false}}, "x2": {"datum": 0.102821},
                      "y": {"datum": 0.053015, "type": "quantitative", "scale": {"domain": [0, 0.05], "nice": false, "zero": false}}, "y2": {"datum": -0.009045}}},
        {"data": {"name": "dots"}, "transform": [{"filter": "datum.p == 3"}], "mark": {"type": "square", "size": 2, "color": "white", "opacity": 0.9, "clip": true},
         "encoding": {"x": {"field": "x", "type": "quantitative", "scale": {"domain": [0, 0.1], "range": [7, 397], "nice": false, "zero": false}},
                      "y": {"field": "y", "type": "quantitative", "scale": {"domain": [0, 0.05], "nice": false, "zero": false}}}},
        {"data": {"name": "vec"}, "transform": [{"filter": "datum.p == 3"}],
         "mark": {"type": "point", "shape": "M0,0L2,0M1.45,-0.3L2,0L1.45,0.3", "filled": false, "color": "white", "stroke": "white", "strokeWidth": 1.2, "strokeCap": "round", "strokeJoin": "round", "opacity": 1, "clip": true},
         "encoding": {"x": {"field": "x", "type": "quantitative", "scale": {"domain": [0, 0.1], "range": [7, 397], "nice": false, "zero": false}},
                      "y": {"field": "y", "type": "quantitative", "scale": {"domain": [0, 0.05], "nice": false, "zero": false}},
                      "size": {"field": "m", "type": "quantitative", "legend": null, "scale": {"type": "pow", "exponent": 2, "domain": [0, 1], "range": [0, 177]}},
                      "angle": {"field": "d", "type": "quantitative", "legend": null, "scale": {"domain": [-180, 180], "range": [180, -180]}}}},
        {"data": {"name": "notes"}, "transform": [{"filter": "datum.p == 3"}],
         "mark": {"type": "text", "font": "Liberation Mono", "fontSize": 11, "color": "white", "align": "center", "baseline": "top", "lineHeight": 10.2, "lineBreak": "\n"},
         "encoding": {"x": {"datum": 0.0901, "type": "quantitative", "scale": {"domain": [0, 0.1], "range": [7, 397], "nice": false, "zero": false}},
                      "y": {"datum": 0.04892, "type": "quantitative", "scale": {"domain": [0, 0.05], "nice": false, "zero": false}},
                      "text": {"field": "note", "type": "nominal"}}}
      ]
    },
    {
      "width": 393, "height": 210,
      "layer": [
        {"data": {"name": "bands"}, "transform": [{"filter": "datum.p == 4"}], "mark": {"type": "rect", "strokeWidth": 0.6},
         "encoding": {
           "x": {"datum": 0, "type": "quantitative", "scale": {"domain": [0, 0.1], "range": [0, 393], "nice": false, "zero": false},
                 "axis": {"values": [0, 0.01, 0.02, 0.03, 0.04, 0.05, 0.06, 0.07, 0.08, 0.09, 0.1], "format": "~g", "title": "Length (m)", "labelFontSize": 12, "titleFontSize": 11, "labelPadding": 4, "titlePadding": 2, "labelOverlap": false, "tickCount": 11}},
           "x2": {"datum": 0.1},
           "y": {"field": "lo", "type": "quantitative", "scale": {"domain": [0, 0.05], "nice": false, "zero": false},
                 "axis": {"values": [0, 0.01, 0.02, 0.03, 0.04, 0.05], "format": "~g", "title": "Height (m)", "labelFontSize": 12, "titleFontSize": 11, "labelPadding": 4, "titlePadding": 1, "labelOverlap": false, "tickCount": 6}},
           "y2": {"field": "hi"},
           "color": {"field": "f", "type": "quantitative", "legend": null, "scale": {"type": "linear", "domain": [0, 0.08, 0.14, 0.2, 0.32, 0.45, 0.62, 0.8, 1], "range": ["#0b1db8", "#0b3cf0", "#0a8cff", "#12e4ff", "#b4fff4", "#ffff1e", "#ff9612", "#f41c12", "#c81313"], "interpolate": "rgb"}},
           "stroke": {"field": "f", "type": "quantitative", "legend": null, "scale": {"type": "linear", "domain": [0, 0.08, 0.14, 0.2, 0.32, 0.45, 0.62, 0.8, 1], "range": ["#0b1db8", "#0b3cf0", "#0a8cff", "#12e4ff", "#b4fff4", "#ffff1e", "#ff9612", "#f41c12", "#c81313"], "interpolate": "rgb"}}
         }},
        {"data": {"values": [{}]}, "mark": {"type": "rect", "filled": false, "stroke": "#1c1c1c", "strokeWidth": 1.3},
         "encoding": {"x": {"datum": -0.009669, "type": "quantitative", "scale": {"domain": [0, 0.1], "range": [0, 393], "nice": false, "zero": false}}, "x2": {"datum": 0.105344},
                      "y": {"datum": 0.053333, "type": "quantitative", "scale": {"domain": [0, 0.05], "nice": false, "zero": false}}, "y2": {"datum": -0.006667}}},
        {"data": {"name": "dots"}, "transform": [{"filter": "datum.p == 4"}], "mark": {"type": "square", "size": 2, "color": "white", "opacity": 0.9, "clip": true},
         "encoding": {"x": {"field": "x", "type": "quantitative", "scale": {"domain": [0, 0.1], "range": [0, 393], "nice": false, "zero": false}},
                      "y": {"field": "y", "type": "quantitative", "scale": {"domain": [0, 0.05], "nice": false, "zero": false}}}},
        {"data": {"name": "vec"}, "transform": [{"filter": "datum.p == 4"}],
         "mark": {"type": "point", "shape": "M0,0L2,0M1.45,-0.3L2,0L1.45,0.3", "filled": false, "color": "white", "stroke": "white", "strokeWidth": 1.2, "strokeCap": "round", "strokeJoin": "round", "opacity": 1, "clip": true},
         "encoding": {"x": {"field": "x", "type": "quantitative", "scale": {"domain": [0, 0.1], "range": [0, 393], "nice": false, "zero": false}},
                      "y": {"field": "y", "type": "quantitative", "scale": {"domain": [0, 0.05], "nice": false, "zero": false}},
                      "size": {"field": "m", "type": "quantitative", "legend": null, "scale": {"type": "pow", "exponent": 2, "domain": [0, 1], "range": [0, 177]}},
                      "angle": {"field": "d", "type": "quantitative", "legend": null, "scale": {"domain": [-180, 180], "range": [180, -180]}}}},
        {"data": {"name": "notes"}, "transform": [{"filter": "datum.p == 4"}],
         "mark": {"type": "text", "font": "Liberation Mono", "fontSize": 11, "color": "white", "align": "center", "baseline": "top", "lineHeight": 10.4, "lineBreak": "\n"},
         "encoding": {"x": {"datum": 0.0901, "type": "quantitative", "scale": {"domain": [0, 0.1], "range": [0, 393], "nice": false, "zero": false}},
                      "y": {"datum": 0.04874, "type": "quantitative", "scale": {"domain": [0, 0.05], "nice": false, "zero": false}},
                      "text": {"field": "note", "type": "nominal"}}}
      ]
    }
  ]
}
